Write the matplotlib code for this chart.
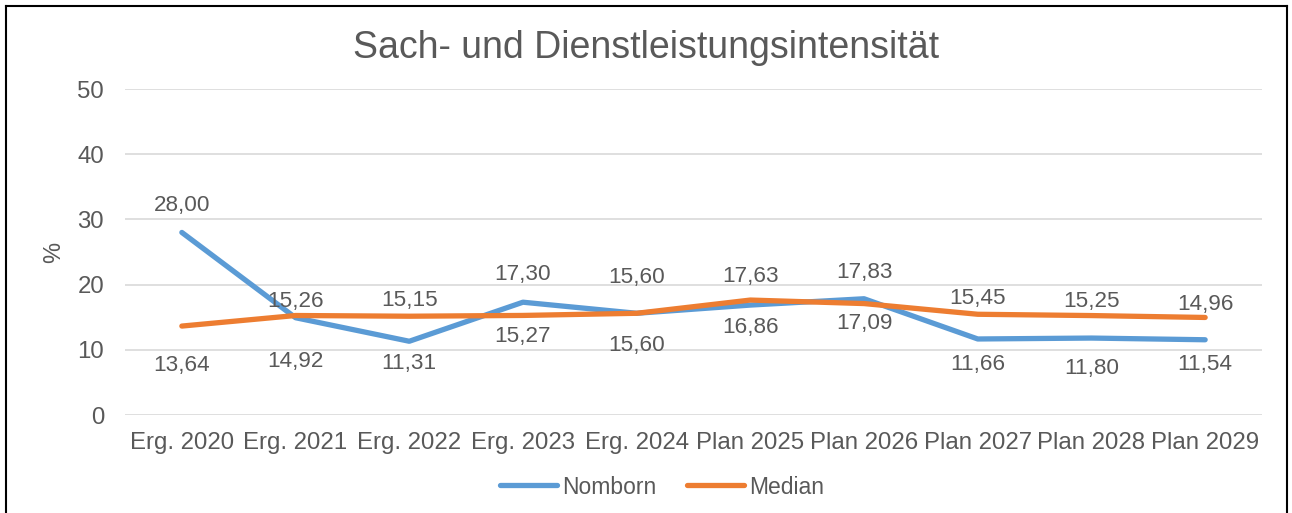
import matplotlib
matplotlib.use("Agg")
import matplotlib.pyplot as plt
from matplotlib.lines import Line2D

categories = ["Erg. 2020", "Erg. 2021", "Erg. 2022", "Erg. 2023", "Erg. 2024",
              "Plan 2025", "Plan 2026", "Plan 2027", "Plan 2028", "Plan 2029"]
nomborn = [28.00, 14.92, 11.31, 17.30, 15.60, 16.86, 17.83, 11.66, 11.80, 11.54]
median = [13.64, 15.26, 15.15, 15.27, 15.60, 17.63, 17.09, 15.45, 15.25, 14.96]
yticks = [0, 10, 20, 30, 40, 50]

# label offsets in pixels (negative = above the point), layout only
nomborn_dy = [-29, 42, 20, -30, -38, 20, -28, 24, 28, 23]
median_dy = [37, -16, -18, 19, 30, -26, 18, -18, -16, -15]

plt.rcParams['font.family'] = ['Liberation Sans', 'DejaVu Sans']
txt = '#595959'
blue = '#5B9BD5'
orange = '#ED7D31'

fig = plt.figure(figsize=(12.92, 5.13), dpi=100)
ax = fig.add_axes([125/1292, 1-415/513, (1262-125)/1292, (415-89)/513])
x = list(range(len(categories)))
ax.plot(x, nomborn, color=blue, lw=3.8, solid_capstyle='round', label='Nomborn', zorder=3)
ax.plot(x, median, color=orange, lw=3.8, solid_capstyle='round', label='Median', zorder=3)

def fmt(v):
    return f"{v:.2f}".replace('.', ',')

for series, dys in ((nomborn, nomborn_dy), (median, median_dy)):
    for i in x:
        ax.annotate(fmt(series[i]), (i, series[i]), xytext=(0, -(dys[i] + 2) * 0.72),
                    textcoords='offset points', ha='center', va='center',
                    fontsize=16.2, color=txt, zorder=4)

ax.set_xlim(-0.5, len(categories) - 0.5)
ax.set_ylim(0, 50)
ax.set_yticks(yticks)
ax.set_xticks(x)
ax.set_xticklabels(categories)
ax.tick_params(axis='both', length=0, labelsize=17.3, labelcolor=txt)
ax.tick_params(axis='y', pad=15)
ax.tick_params(axis='x', pad=12)
ax.grid(axis='y', color='#D9D9D9', lw=1.2)
ax.set_axisbelow(True)
for s in ax.spines.values():
    s.set_visible(False)

fig.text(54/1292, 1-252/513, '%', rotation=90, ha='center', va='center',
         fontsize=17, color=txt)

fig.text(0.5, 1-48/513, 'Sach- und Dienstleistungsintensität', ha='center', va='center',
         fontsize=27, color=txt)

handles = [Line2D([0], [0], color=blue, lw=3.8, solid_capstyle='round'),
           Line2D([0], [0], color=orange, lw=3.8, solid_capstyle='round')]
fig.legend(handles, ['Nomborn', 'Median'], loc='center', bbox_to_anchor=(662/1292, 1-487/513),
           ncol=2, frameon=False, fontsize=16.5, labelcolor=txt, handlelength=2.5,
           handletextpad=0.23, columnspacing=1.3)

# outer border (left, top, right)
for xs, ys in [([6/1292, 6/1292], [0, 1-6/513]), ([6/1292, 1287/1292], [1-6/513, 1-6/513]),
               ([1287/1292, 1287/1292], [0, 1-6/513])]:
    fig.add_artist(Line2D(xs, ys, color='black', lw=1.5, transform=fig.transFigure))

fig.savefig('out.png', dpi=100)
